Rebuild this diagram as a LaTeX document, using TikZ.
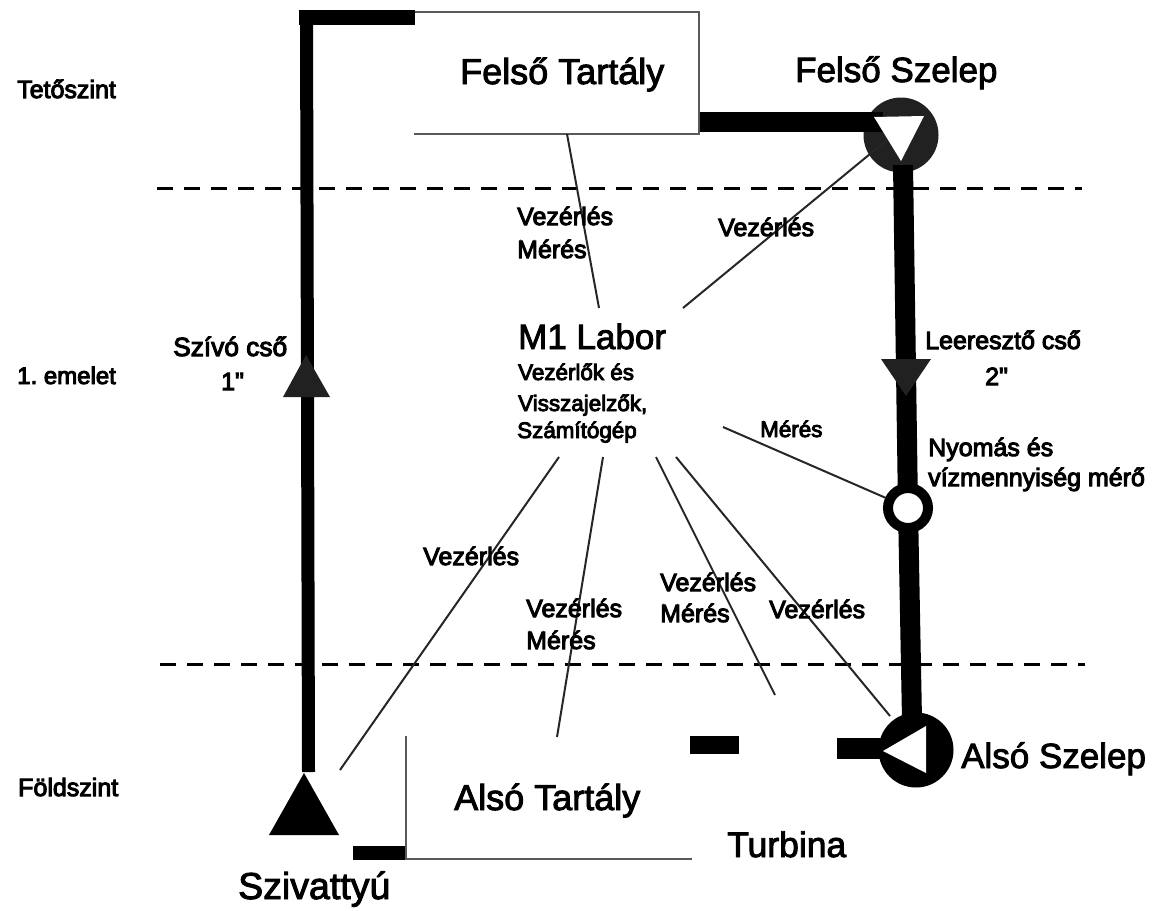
\documentclass[tikz,border=0pt]{standalone}
\usepackage{fontspec}
\setmainfont{Liberation Sans}
\newfontfamily\boldishbig[FakeBold=2.5]{Liberation Sans}
\newfontfamily\boldishmid[FakeBold=4]{Liberation Sans}
\frenchspacing
\tikzset{
  pipe/.style={line width=#1,draw=black,line cap=butt},
  tankline/.style={draw=black!65,line width=2.6pt},
  wire/.style={draw=black!85,line width=2pt},
  level/.style={draw=black,line width=3pt,dash pattern=on 16pt off 11pt},
  bigtext/.style={inner sep=0pt,anchor=base west,font=\boldishbig\fontsize{#1}{40}\selectfont},
  bigtext/.default=35,
  midtext/.style={inner sep=0pt,anchor=base west,font=\boldishmid\fontsize{#1}{30}\selectfont},
  midtext/.default=25,
  smalltext/.style={inner sep=0pt,anchor=base west,font=\boldishmid\fontsize{22.4}{28}\selectfont},
  valvebody/.style={circle,fill=#1,inner sep=0pt,outer sep=0pt,minimum size=75pt},
  whitetri/.style={fill=white},
}
\begin{document}
\begin{tikzpicture}[x=1pt,y=-1pt]
\useasboundingbox (0,0) rectangle (1153,910);
% named points
\coordinate (leftpipeB) at (308.5,772);
\coordinate (leftpipeT) at (306.5,17);
\coordinate (topstubW) at (298.5,17);
\coordinate (topstubE) at (415,17);
\coordinate (tankTL) at (415,12);
\coordinate (tankTR) at (699,12);
\coordinate (tankBR) at (699,134);
\coordinate (tankBL) at (414,134);
\coordinate (tankOut) at (699,122);
\coordinate (valveIn) at (883,122);
\coordinate (downA) at (903,165);
\coordinate (downB) at (912,720);
\coordinate (meterC) at (908,508);
\coordinate (lowL) at (406,736);
\coordinate (lowC) at (406,859);
\coordinate (lowR) at (692,859);
\coordinate (lowStubW) at (353,853);
\coordinate (lowStubE) at (406,853);
\coordinate (turbW) at (690,745);
\coordinate (turbE) at (739,745);
\coordinate (valveStub) at (837,748.5);
\coordinate (valveStubE) at (885,748.5);
\coordinate (ll1W) at (157,188);
\coordinate (ll1E) at (1082,188);
\coordinate (ll2W) at (160,664);
\coordinate (ll2E) at (1085,664);
% level lines
\draw[level] (ll1W) -- (ll1E);
\draw[level] (ll2W) -- (ll2E);
% pipes and valves
\node[valvebody=black!87] (upperValve) at (901,135) {};
\draw[pipe=13pt] (leftpipeB) -- (leftpipeT);
\draw[pipe=15pt] (topstubW) -- (topstubE);
\draw[pipe=20pt] (tankOut) -- (valveIn);
\draw[pipe=20pt] (downA) -- (meterC);
\draw[pipe=20pt] (meterC) -- (downB);
\draw[pipe=14pt] (lowStubW) -- (lowStubE);
\draw[pipe=18pt] (turbW) -- (turbE);
\draw[pipe=21pt] (valveStub) -- (valveStubE);
\node[valvebody=black] (lowerValve) at (916,750) {};
\node[circle,draw=black,line width=10pt,fill=white,inner sep=0pt,outer sep=0pt,minimum size=40pt] (meter) at (meterC) {};
% tanks
\draw[tankline,line cap=square] (tankTL) -- (tankTR) -- (tankBR) -- (tankBL);
\draw[tankline] (lowL) -- (lowC) -- (lowR);
% triangles
\fill[black!87] (881,359) -- (931,359) -- (906,396) -- cycle;
\fill[black!87] (283,397) -- (330,397) -- (306,355) -- cycle;
\fill[black] (304,773) -- (339,835) -- (269,835) -- cycle;
\fill[whitetri] (874,117) -- (924,116) -- (901,161) -- cycle;
\fill[whitetri] (883,751) -- (926,726) -- (926,773) -- cycle;
% wires
\coordinate (w1a) at (567,134); \coordinate (w1b) at (599,308);
\coordinate (w2a) at (887,140); \coordinate (w2b) at (683,308);
\coordinate (w3a) at (723,427); \coordinate (w3b) at (886,498);
\coordinate (w4a) at (559,457); \coordinate (w4b) at (340,770);
\coordinate (w5a) at (603,457); \coordinate (w5b) at (557,737);
\coordinate (w6a) at (656,457); \coordinate (w6b) at (775,695);
\coordinate (w7a) at (676,457); \coordinate (w7b) at (890,716);
\draw[wire] (w1a) -- (w1b);
\draw[wire] (w2a) -- (w2b);
\draw[wire] (w3a) -- (w3b);
\draw[wire] (w4a) -- (w4b);
\draw[wire] (w5a) -- (w5b);
\draw[wire] (w6a) -- (w6b);
\draw[wire] (w7a) -- (w7b);
% large text
\node[bigtext=36] (t1) at (460,84) {Felső Tartály};
\node[bigtext] (t2) at (795,82) {Felső Szelep};
\node[bigtext] (t3) at (518,349) {M1 Labor};
\node[bigtext=36] (t4) at (454,810) {Alsó Tartály};
\node[bigtext] (t5) at (961,768) {Alsó Szelep};
\node[bigtext=35.5] (t6) at (727,857) {Turbina};
\node[bigtext=37.5] (t7) at (238,899) {Szivattyú};
% levels
\node[midtext=25] (l1) at (17,98) {Tetőszint};
\node[midtext=24] (l2) at (17,384) {1. emelet};
\node[midtext=25] (l3) at (18,796) {Földszint};
% medium text
\node[midtext] (a1) at (517,225) {Vezérlés};
\node[midtext] (a2) at (517,258) {Mérés};
\node[midtext] (a3) at (718,236) {Vezérlés};
\node[midtext=26.3] (a4) at (173,356) {Szívó cső};
\node[midtext] (a5) at (221,390) {1\char34};
\node[midtext] (a6) at (925,349) {Leeresztő cső};
\node[midtext] (a7) at (985,385) {2\char34};
\node[midtext] (a8) at (928,456) {Nyomás és};
\node[midtext] (a9) at (928,486) {vízmennyiség mérő};
\node[midtext] (a10) at (423,565) {Vezérlés};
\node[midtext] (a11) at (526,617) {Vezérlés};
\node[midtext] (a12) at (526,649) {Mérés};
\node[midtext] (a13) at (660,591) {Vezérlés};
\node[midtext] (a14) at (660,622) {Mérés};
\node[midtext] (a15) at (769,618) {Vezérlés};
% small
\node[smalltext] (s1) at (518,380) {Vezérlők és};
\node[smalltext] (s2) at (518,411) {Visszajelzők,};
\node[smalltext] (s3) at (517,438) {Számítógép};
\node[smalltext] (s4) at (760,437) {Mérés};
\end{tikzpicture}
\end{document}
